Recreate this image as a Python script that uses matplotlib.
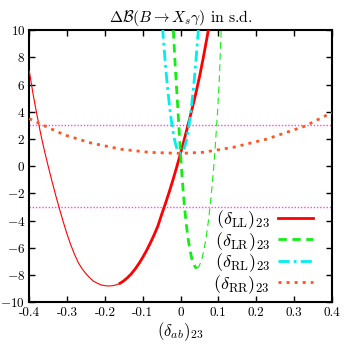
import numpy as np
import matplotlib
matplotlib.use("Agg")
import matplotlib.pyplot as plt

plt.rcParams['font.family'] = 'serif'
plt.rcParams['font.serif'] = ['cmr10']
plt.rcParams['mathtext.fontset'] = 'cm'
plt.rcParams['axes.unicode_minus'] = False
plt.rcParams['axes.formatter.use_mathtext'] = True

# valores
ll_x = [-0.40, -0.39, -0.38, -0.37, -0.36, -0.35, -0.34, -0.33, -0.32, -0.31,
        -0.30, -0.29, -0.28, -0.27, -0.26, -0.25, -0.24, -0.23, -0.22, -0.21,
        -0.20, -0.19, -0.18, -0.17, -0.16, -0.15, -0.14, -0.13, -0.12, -0.11,
        -0.10, -0.09, -0.08, -0.07, -0.06, -0.05, -0.04, -0.03, -0.02, -0.01,
        0.0, 0.01, 0.02, 0.03, 0.04, 0.05, 0.06, 0.07, 0.0735]
ll_y = [7.0, 5.3, 3.8, 2.4, 1.15, 0.0, -1.1, -2.15, -3.15, -4.1,
        -5.0, -5.8, -6.5, -7.1, -7.55, -7.9, -8.2, -8.45, -8.6, -8.72,
        -8.78, -8.8, -8.78, -8.72, -8.6, -8.42, -8.18, -7.9, -7.55, -7.15,
        -6.7, -6.2, -5.65, -5.05, -4.4, -3.55, -2.75, -1.9, -1.0, -0.05,
        0.95, 1.98, 3.05, 4.15, 5.3, 6.55, 7.95, 9.45, 10.0]
ll_corte = 24  # daqui em diante a linha fica grossa

lr_x_grosso = [-0.019, -0.014, -0.007, 0.0, 0.005, 0.01, 0.015, 0.02, 0.025,
               0.03, 0.035, 0.04, 0.043]
lr_y_grosso = [10.0, 7.4, 4.2, 0.95, -1.1, -2.8, -4.2, -5.3, -6.15,
               -6.8, -7.2, -7.45, -7.5]
lr_x_fino = [0.043, 0.048, 0.053, 0.058, 0.063, 0.068, 0.073, 0.078, 0.083,
             0.088, 0.093, 0.098, 0.103, 0.1075]
lr_y_fino = [-7.5, -7.4, -7.1, -6.65, -6.0, -5.2, -4.2, -3.0, -1.6,
             0.0, 1.9, 4.0, 6.6, 10.0]

rl_x = [-0.0475, -0.045, -0.04, -0.035, -0.03, -0.025, -0.02, -0.015, -0.01, -0.005,
        0.0, 0.005, 0.01, 0.015, 0.02, 0.025, 0.03, 0.035, 0.04, 0.045, 0.0475]
rl_y = [10.2, 9.25, 7.5, 5.95, 4.65, 3.5, 2.6, 1.85, 1.35, 1.05,
        0.95, 1.05, 1.35, 1.85, 2.6, 3.5, 4.65, 5.95, 7.5, 9.25, 10.2]

rr_x = [-0.40, -0.35, -0.306, -0.235, -0.156, -0.08, 0.0, 0.06, 0.14, 0.228, 0.329, 0.40]
rr_y = [3.5, 2.85, 2.3, 1.7, 1.25, 1.02, 0.95, 1.03, 1.4, 2.0, 2.95, 3.95]

limites = [-3, 3]
xticks = [-0.4, -0.3, -0.2, -0.1, 0.0, 0.1, 0.2, 0.3, 0.4]
xticklabels = ["-0.4", "-0.3", "-0.2", "-0.1", "0", "0.1", "0.2", "0.3", "0.4"]
yticks = [-10, -8, -6, -4, -2, 0, 2, 4, 6, 8, 10]

fig = plt.figure(figsize=(3.46, 3.49), dpi=100)
ax = fig.add_axes([0.0847, 0.1338, 0.8740, 0.7794])

for lim in limites:
    ax.axhline(lim, color='#ff40ff', lw=1.0, ls=(0, (1, 1.3)), zorder=1)

vermelho = '#ff0000'
verde = '#11ee11'
ciano = '#00eeee'
laranja = '#ff5522'

ax.plot(ll_x[:ll_corte + 1], ll_y[:ll_corte + 1], color=vermelho, lw=0.8, zorder=3)
ax.plot(ll_x[ll_corte:], ll_y[ll_corte:], color=vermelho, lw=2.0, zorder=3,
        label=r'$(\delta_{\rm LL})_{23}$')

ax.plot(lr_x_grosso, lr_y_grosso, color=verde, lw=2.0, ls=(0, (3, 2)), zorder=3,
        label=r'$(\delta_{\rm LR})_{23}$')
ax.plot(lr_x_fino, lr_y_fino, color=verde, lw=0.8, ls=(0, (6, 4)), zorder=3)

ax.plot(rl_x, rl_y, color=ciano, lw=2.0, ls=(0, (4, 1.5, 1, 1.5)), zorder=3,
        label=r'$(\delta_{\rm RL})_{23}$')

ax.plot(rr_x, rr_y, color=laranja, lw=2.0, ls=(0, (1.1, 1.8)), zorder=3,
        label=r'$(\delta_{\rm RR})_{23}$')

ax.set_xlim(-0.4, 0.4)
ax.set_ylim(-10, 10)
ax.set_xticks(xticks)
ax.set_xticklabels(xticklabels)
ax.set_yticks(yticks)
ax.tick_params(direction='in', top=True, right=True, length=4, width=1.0,
               labelsize=9.5, pad=3)
for s in ax.spines.values():
    s.set_linewidth(1.5)

ax.set_title(r'$\Delta\mathcal{B}(B\to X_s\gamma)$ in s.d.', fontsize=11.3, pad=6)
ax.set_xlabel(r'$(\delta_{ab})_{23}$', fontsize=12, labelpad=1)

ax.legend(loc='lower right', bbox_to_anchor=(0.975, -0.015), frameon=False,
          markerfirst=False, fontsize=13, handlelength=1.95, labelspacing=-0.07,
          handletextpad=0.45, borderaxespad=0.2)

fig.savefig("out.png", dpi=100)
